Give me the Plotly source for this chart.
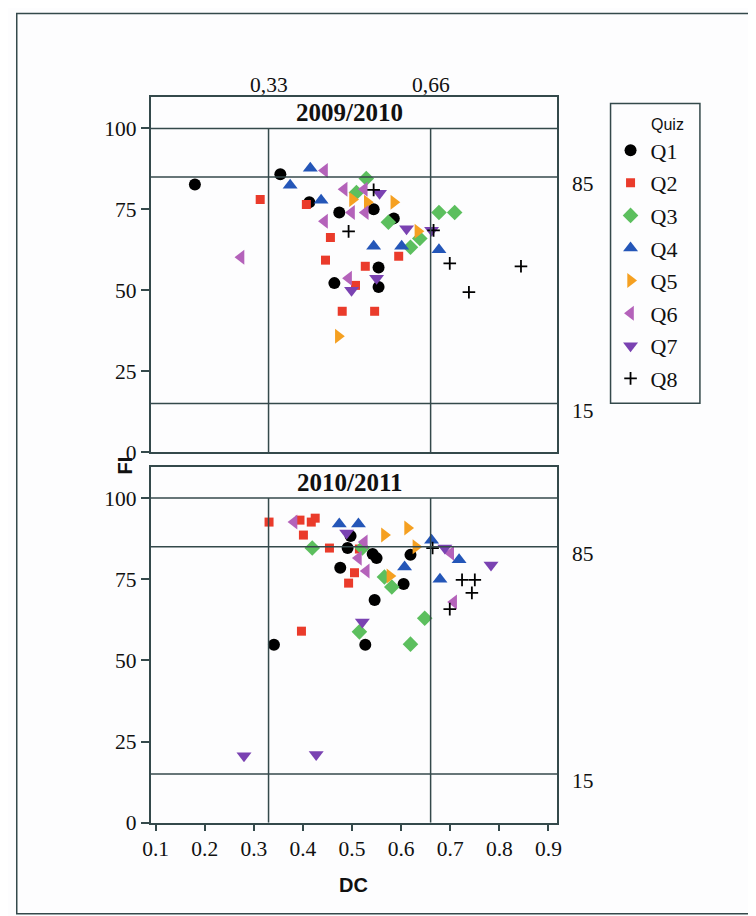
import plotly.graph_objects as go

# Page photograph maps figure pixel f to screen pixel: 16 + 0.98*f (x), 7.5 + 0.987*f (y)
W, H = 760, 935
SX, OX = 0.98, 16.0
SY, OY = 0.987, 7.5

quizzes = ["Q1", "Q2", "Q3", "Q4", "Q5", "Q6", "Q7", "Q8"]

# ---- 2009/2010 panel data (DC, FI) ----
dc_2009 = {
    "Q1": [0.180, 0.354, 0.413, 0.474, 0.544, 0.585, 0.554, 0.554, 0.464],
    "Q2": [0.313, 0.407, 0.456, 0.446, 0.480, 0.527, 0.546, 0.595, 0.507],
    "Q3": [0.529, 0.509, 0.574, 0.638, 0.619, 0.677, 0.709],
    "Q4": [0.415, 0.374, 0.437, 0.544, 0.601, 0.677],
    "Q5": [0.501, 0.531, 0.585, 0.634, 0.472],
    "Q6": [0.444, 0.274, 0.484, 0.499, 0.527, 0.444, 0.525, 0.493],
    "Q7": [0.611, 0.662, 0.499, 0.550, 0.556],
    "Q8": [0.493, 0.666, 0.699, 0.738, 0.844, 0.544],
}
fi_2009 = {
    "Q1": [82.7, 85.8, 77.2, 74.0, 75.0, 72.2, 57.0, 51.0, 52.2],
    "Q2": [78.0, 76.5, 66.3, 59.3, 43.5, 57.4, 43.5, 60.5, 51.5],
    "Q3": [84.5, 80.2, 71.0, 66.0, 63.3, 74.0, 74.0],
    "Q4": [87.7, 82.4, 77.8, 63.6, 63.6, 62.5],
    "Q5": [78.0, 77.2, 77.2, 68.2, 35.8],
    "Q6": [87.0, 60.2, 81.2, 74.0, 74.0, 71.3, 81.2, 53.7],
    "Q7": [69.0, 68.5, 50.0, 53.7, 80.0],
    "Q8": [68.2, 68.5, 58.3, 49.4, 57.4, 81.0],
}

# ---- 2010/2011 panel data (DC, FI) ----
dc_2010 = {
    "Q1": [0.341, 0.527, 0.497, 0.491, 0.476, 0.542, 0.550, 0.619, 0.605, 0.546],
    "Q2": [0.331, 0.394, 0.417, 0.425, 0.401, 0.454, 0.397, 0.505, 0.493, 0.515],
    "Q3": [0.419, 0.566, 0.581, 0.515, 0.648, 0.619, 0.521],
    "Q4": [0.474, 0.513, 0.607, 0.662, 0.679, 0.718],
    "Q5": [0.566, 0.613, 0.630, 0.577],
    "Q6": [0.382, 0.525, 0.513, 0.529, 0.707, 0.701],
    "Q7": [0.489, 0.521, 0.280, 0.427, 0.689, 0.783],
    "Q8": [0.664, 0.724, 0.750, 0.744, 0.699],
}
fi_2010 = {
    "Q1": [54.8, 54.8, 88.3, 84.6, 78.5, 82.8, 81.5, 82.5, 73.5, 68.6],
    "Q2": [92.6, 93.2, 92.6, 93.8, 88.6, 84.6, 59.0, 77.0, 73.8, 84.3],
    "Q3": [84.6, 75.7, 72.6, 58.8, 63.0, 55.0, 84.6],
    "Q4": [92.0, 92.0, 78.8, 87.0, 75.0, 81.0],
    "Q5": [88.6, 90.8, 85.0, 76.0],
    "Q6": [92.6, 86.5, 81.5, 77.5, 68.0, 83.0],
    "Q7": [89.2, 61.8, 20.6, 21.0, 84.6, 79.4],
    "Q8": [84.6, 74.8, 74.8, 70.8, 65.8],
}

panel_titles = ["2009/2010", "2010/2011"]
dc_cuts = [0.33, 0.66]
dc_cut_labels = ["0,33", "0,66"]
fi_cuts = [85, 15]
x_ticks = [0.1, 0.2, 0.3, 0.4, 0.5, 0.6, 0.7, 0.8, 0.9]
y_ticks = [0, 25, 50, 75, 100]

colors = {"Q1": "#000000", "Q2": "#ea3b2b", "Q3": "#5cbf5e", "Q4": "#2456b8",
          "Q5": "#f5a021", "Q6": "#b462ba", "Q7": "#7a42b2", "Q8": "#000000"}
symbols = {"Q1": "circle", "Q2": "square", "Q3": "diamond", "Q4": "triangle-up",
           "Q5": "triangle-right", "Q6": "triangle-left", "Q7": "triangle-down",
           "Q8": "cross-thin"}
sizes = {"Q1": 12, "Q2": 9, "Q3": 12, "Q4": 13, "Q5": 13, "Q6": 13, "Q7": 13, "Q8": 9}

LINE = "#34494b"
SERIF = "Liberation Serif"
SANS = "Liberation Sans"

fig = go.Figure()

panels = [(dc_2009, fi_2009, "x", "y", True), (dc_2010, fi_2010, "x2", "y2", False)]
for dcd, fid, xa, ya, show in panels:
    for q in quizzes:
        marker = dict(color=colors[q], symbol=symbols[q], size=sizes[q])
        if q == "Q8":
            marker["line"] = dict(color="#000000", width=1.8)
        else:
            marker["line"] = dict(width=0)
        fig.add_trace(go.Scatter(
            x=dcd[q], y=fid[q], mode="markers", name=q, legendgroup=q,
            showlegend=show, marker=marker, xaxis=xa, yaxis=ya))


def px_x(p):
    return (p - OX) / SX / W


def px_y(p):
    return 1 - (p - OY) / SY / H


xdom = [px_x(150), px_x(555)]
xrange = [0.1 - 5 / 489, 0.1 + 400 / 489]
top_dom = [px_y(452), px_y(97)]
bot_dom = [px_y(823), px_y(467)]
top_range = [0, (452 - 97) / 3.24]
bot_range = [0, (823 - 467) / 3.25]

axis_common = dict(showgrid=False, zeroline=False, showline=True, linecolor=LINE,
                   linewidth=1.5, mirror=True)
tickfont = dict(family=SERIF, size=21.5, color="#111")

fig.update_layout(
    width=W, height=H, margin=dict(l=0, r=0, t=0, b=0),
    paper_bgcolor="#fdfdfe", plot_bgcolor="#fdfdfe",
    xaxis=dict(domain=xdom, range=xrange, anchor="y", showticklabels=False, ticks="",
               **axis_common),
    yaxis=dict(domain=top_dom, range=top_range, anchor="x", tickvals=y_ticks,
               ticks="outside", ticklen=8, tickcolor=LINE, tickwidth=1.5,
               tickfont=tickfont, **axis_common),
    xaxis2=dict(domain=xdom, range=xrange, anchor="y2", tickvals=x_ticks,
                ticks="outside", ticklen=6, tickcolor=LINE, tickwidth=1.5,
                tickfont=tickfont, **axis_common),
    yaxis2=dict(domain=bot_dom, range=bot_range, anchor="x2", tickvals=y_ticks,
                ticks="outside", ticklen=8, tickcolor=LINE, tickwidth=1.5,
                tickfont=tickfont, **axis_common),
    legend=dict(x=px_x(608), y=px_y(129), xanchor="left", yanchor="top",
                bgcolor="rgba(0,0,0,0)", borderwidth=0, tracegroupgap=1,
                font=dict(family=SERIF, size=22, color="#111")),
    showlegend=True,
)

shapes = []
annotations = []
for xa, ya, title in [("x", "y", panel_titles[0]), ("x2", "y2", panel_titles[1])]:
    shapes.append(dict(type="line", xref=f"{xa} domain", yref=ya, x0=0, x1=1, y0=100, y1=100,
                       line=dict(color=LINE, width=1.5)))
    for c in fi_cuts:
        shapes.append(dict(type="line", xref=f"{xa} domain", yref=ya, x0=0, x1=1, y0=c, y1=c,
                           line=dict(color=LINE, width=1.5)))
        annotations.append(dict(text=str(c), xref="paper", yref=ya, x=px_x(568), y=c,
                                xanchor="left", yanchor="middle", yshift=-7, showarrow=False,
                                font=dict(family=SERIF, size=21.5, color="#111")))
    for c in dc_cuts:
        shapes.append(dict(type="line", xref=xa, yref=ya, x0=c, x1=c, y0=0, y1=100,
                           line=dict(color=LINE, width=1.5)))
    annotations.append(dict(text=f"<b>{title}</b>", xref=f"{xa} domain", yref=ya, x=0.49,
                            y=104.8, xanchor="center", showarrow=False,
                            font=dict(family=SERIF, size=25, color="#111")))

for c, lab in zip(dc_cuts, dc_cut_labels):
    annotations.append(dict(text=lab, xref="x", yref="paper", x=c, y=px_y(99),
                            xanchor="center", yanchor="bottom", showarrow=False,
                            font=dict(family=SERIF, size=21.5, color="#111")))

annotations.append(dict(text="<b>FI</b>", xref="paper", yref="paper", x=px_x(125), y=px_y(465),
                        xanchor="center", yanchor="middle", textangle=-90, showarrow=False,
                        font=dict(family=SANS, size=20, color="#111")))
annotations.append(dict(text="<b>DC</b>", xref="paper", yref="paper", x=px_x(352), y=px_y(885),
                        xanchor="center", yanchor="middle",
                        showarrow=False, font=dict(family=SANS, size=20, color="#111")))
annotations.append(dict(text="Quiz", xref="paper", yref="paper", x=px_x(665), y=px_y(124),
                        xanchor="center", yanchor="middle",
                        showarrow=False, font=dict(family=SANS, size=16, color="#111")))

# legend box
shapes.append(dict(type="rect", xref="paper", yref="paper", x0=px_x(608), x1=px_x(697),
                   y0=px_y(403), y1=px_y(103), line=dict(color=LINE, width=1.5)))
# outer frame
shapes.append(dict(type="rect", xref="paper", yref="paper", x0=0.001, x1=1.05,
                   y0=px_y(914), y1=px_y(13), line=dict(color=LINE, width=1.5)))

fig.update_layout(shapes=shapes, annotations=annotations)
fig.write_html("out.html")
